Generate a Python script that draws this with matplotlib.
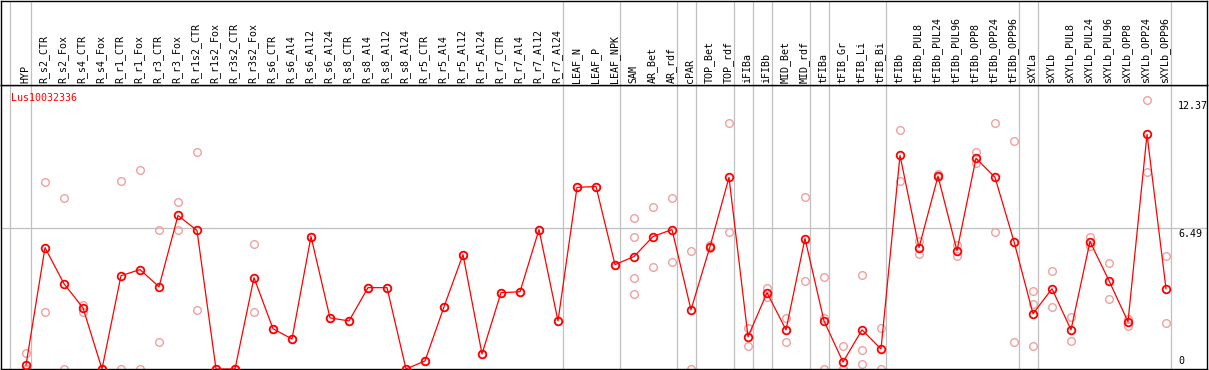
import numpy as np
import matplotlib
matplotlib.use("Agg")
import matplotlib.pyplot as plt
import matplotlib.transforms as mtransforms

gene = "Lus10032336"

labels = ["HYP", "R_s2_CTR", "R_s2_Fox", "R_s4_CTR", "R_s4_Fox", "R_r1_CTR", "R_r1_Fox",
          "R_r3_CTR", "R_r3_Fox", "R_r1s2_CTR", "R_r1s2_Fox", "R_r3s2_CTR", "R_r3s2_Fox",
          "R_s6_CTR", "R_s6_Al4", "R_s6_Al12", "R_s6_Al24", "R_s8_CTR", "R_s8_Al4",
          "R_s8_Al12", "R_s8_Al24", "R_r5_CTR", "R_r5_Al4", "R_r5_Al12", "R_r5_Al24",
          "R_r7_CTR", "R_r7_Al4", "R_r7_Al12", "R_r7_Al24", "LEAF_N", "LEAF_P", "LEAF_NPK",
          "SAM", "AR_Bet", "AR_rdf", "cPAR", "TOP_Bet", "TOP_rdf", "iFIBa", "iFIBb",
          "MID_Bet", "MID_rdf", "tFIBa", "tFIB_Gr", "tFIB_Li", "tFIB_Bi", "tFIBb",
          "tFIBb_PUL8", "tFIBb_PUL24", "tFIBb_PUL96", "tFIBb_OPP8", "tFIBb_OPP24",
          "tFIBb_OPP96", "sXYLa", "sXYLb", "sXYLb_PUL8", "sXYLb_PUL24", "sXYLb_PUL96",
          "sXYLb_OPP8", "sXYLb_OPP24", "sXYLb_OPP96"]

means = [0.18, 5.58, 3.92, 2.81, 0, 4.29, 4.57, 3.78, 7.06, 6.37, 0, 0, 4.20,
         1.85, 1.38, 6.09, 2.35, 2.21, 3.74, 3.74, 0, 0.37, 2.86, 5.26, 0.69,
         3.51, 3.55, 6.41, 2.21, 8.35, 8.39, 4.80, 5.17, 6.09, 6.41, 2.72, 5.63,
         8.81, 1.48, 3.51, 1.80, 6.00, 2.21, 0.32, 1.80, 0.92, 9.82, 5.58, 8.86,
         5.44, 9.69, 8.81, 5.86, 2.54, 3.69, 1.80, 5.86, 4.06, 2.17, 10.79, 3.69]

replicates = [[0.74, 0, 0, 0], [8.58, 2.63], [7.84, 0], [2.95, 2.63], [0, 0],
              [8.63, 0], [9.13, 0], [6.37, 1.25], [7.70, 6.41], [9.96, 2.72],
              [0, 0], [0, 0], [5.77, 2.63],
              [1.85], [1.38], [6.09], [2.35], [2.21], [3.74], [3.74], [0], [0.37],
              [2.86], [5.26], [0.69], [3.51], [3.55], [6.41], [2.21], [8.35], [8.39], [4.80],
              [6.92, 6.09, 4.20, 3.46], [7.43, 4.70], [7.84, 4.94], [5.44, 0],
              [5.70, 5.56], [11.30, 6.32], [1.89, 1.06], [3.74, 3.32], [2.35, 1.25],
              [7.89, 4.06], [4.24, 2.35, 0], [1.06, 0, 0], [4.34, 0.88, 0.23],
              [1.89, 0], [10.98, 8.63], [5.90, 5.30], [8.95, 8.81], [5.72, 5.21],
              [9.96, 9.46], [11.30, 6.32], [10.47, 1.25], [3.60, 3.00, 1.06],
              [4.52, 2.86], [2.40, 1.29], [6.09, 5.67], [4.89, 3.23], [2.31, 1.98],
              [12.37, 9.04], [5.21, 2.12]]

# last column of each group (separator drawn after it)
group_ends = [-1, 0, 28, 31, 34, 35, 37, 38, 39, 41, 42, 45, 52, 53, 60]
ytick_vals = [0, 6.49, 12.37]

W, H = 1209, 370
fig = plt.figure(figsize=(W / 100, H / 100), dpi=100)
font = "DejaVu Sans Mono"
red = "#ff0000"
faint = "#f0a0a0"
grid = "#c0c0c0"

# pixel layout: column i sits at x = 26 + 19*i
x0, dx = 26.0, 19.0
left_px, right_px = 1.0, 1207.0
head_top, head_bot, bot_px = 0.5, 85.0, 369.0
xlim = ((left_px - x0) / dx, (right_px - x0) / dx)
scale = 21.75

ax = fig.add_axes([left_px / W, 1 - bot_px / H, (right_px - left_px) / W, (bot_px - head_bot) / H])
hx = fig.add_axes([left_px / W, 1 - head_bot / H, (right_px - left_px) / W, (head_bot - head_top) / H],
                  sharex=ax)

xs = np.arange(len(labels))
ax.set_xlim(*xlim)
ax.set_ylim(0, (bot_px - head_bot) / scale)
hx.set_ylim(0, 1)

for a in (ax, hx):
    a.set_xticks([])
    a.set_yticks([])
    for s in a.spines.values():
        s.set_color("black")
        s.set_linewidth(1.0)
    for g in group_ends:
        off = 0.16 if g < 0 else 0.24
        a.axvline(g + off, color=grid, lw=0.9, zorder=0)

ax.axhline(ytick_vals[1], color=grid, lw=0.9, zorder=0)

for i, reps in enumerate(replicates):
    ax.plot([i] * len(reps), reps, "o", ms=5.5, mfc="none", mec=faint, mew=1.0, zorder=2)

ax.plot(xs, means, "-", color=red, lw=0.9, zorder=3)
ax.plot(xs, means, "o", ms=5.5, mfc="none", mec=red, mew=1.3, zorder=4)

for i, lab in enumerate(labels):
    hx.text(i - 0.05, 0.025, lab, rotation=90, ha="center", va="bottom",
            fontsize=7.2, family=font, color="black")

ax.text(0.008, 0.955, gene, transform=ax.transAxes, color=red, fontsize=7.2,
        family=font, ha="left", va="center")

tx = (1178 - x0) / dx
for v in ytick_vals:
    if v == 0:
        off = mtransforms.offset_copy(ax.transData, fig=fig, x=0, y=3.5, units="dots")
        ax.text(tx, v, "0", transform=off, fontsize=7.2, family=font, ha="left", va="bottom")
    else:
        off = mtransforms.offset_copy(ax.transData, fig=fig, x=0, y=-1, units="dots")
        ax.text(tx, v, f"{v:.2f}", transform=off, fontsize=7.2, family=font,
                ha="left", va="top")

fig.savefig("out.png", dpi=100)
